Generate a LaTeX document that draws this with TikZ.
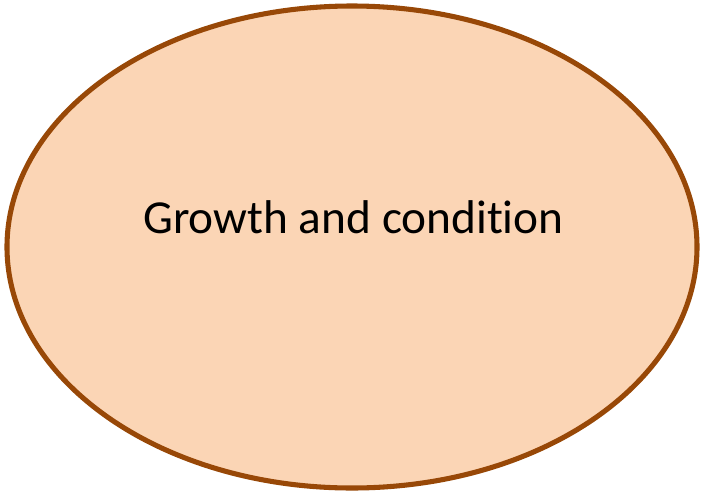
\documentclass[tikz,border=0pt]{standalone}
\usepackage{fontspec}
\setmainfont{Carlito}[Ligatures=NoCommon]
\usepackage{xcolor}
\usepackage{tikz}
\usetikzlibrary{shapes.geometric, positioning}
\definecolor{peachfill}{HTML}{FBD5B5}
\definecolor{rustbrown}{HTML}{984807}

\begin{document}
\begin{tikzpicture}[
  x=0.75pt, y=-0.75pt,
  blob/.style={ellipse, draw=rustbrown, fill=peachfill, line width=3.8pt,
               minimum width=517.5pt, minimum height=361.5pt, inner sep=0pt},
  caption/.style={font=\fontsize{35.5}{42}\selectfont, text=black, anchor=base}
]
\useasboundingbox (0,0) rectangle (703,493);

% outer shape
\node[blob] (growth) at (352,247) {};

% text
\node[caption] (growthtext) at (353.5,233) {Growth and condition};
\end{tikzpicture}
\end{document}
